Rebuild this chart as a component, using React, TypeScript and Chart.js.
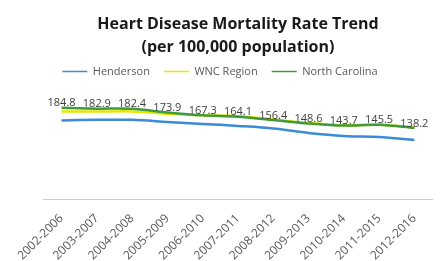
import React, { useEffect, useRef } from "react";
import { Chart, registerables } from "chart.js";

Chart.register(...registerables);

const periods = [
  "2002-2006", "2003-2007", "2004-2008", "2005-2009", "2006-2010", "2007-2011",
  "2008-2012", "2009-2013", "2010-2014", "2011-2015", "2012-2016",
];
const henderson = [155.7, 156.9, 156.9, 152.2, 147.6, 142.9, 137.1, 126.7, 119.7, 117.4, 110.4];
const wncRegion = [176.5, 176.0, 176.5, 171.0, 167.5, 165.5, 158.0, 149.5, 144.5, 145.5, 139.0];
const northCarolina = [184.8, 182.9, 182.4, 173.9, 167.3, 164.1, 156.4, 148.6, 143.7, 145.5, 138.2];
const titleLines = ["Heart Disease Mortality Rate Trend", "(per 100,000 population)"];

const labelPlugin = {
  id: "ncLabels",
  afterDatasetsDraw(chart: any) {
    const ctx = chart.ctx;
    const idx = 2;
    const meta = chart.getDatasetMeta(idx);
    const data = chart.data.datasets[idx].data as number[];
    ctx.save();
    ctx.font = "11px 'Open Sans', sans-serif";
    ctx.fillStyle = "#404040";
    ctx.textAlign = "center";
    ctx.textBaseline = "bottom";
    meta.data.forEach((pt: any, i: number) => {
      ctx.fillText(data[i].toFixed(1), pt.x, pt.y + 1);
    });
    ctx.restore();
  },
};

const titlePlugin = {
  id: "plotTitle",
  afterDraw(chart: any) {
    const ctx = chart.ctx;
    const cx = (chart.chartArea.left + chart.chartArea.right) / 2;
    ctx.save();
    ctx.font = "bold 16px 'Open Sans', sans-serif";
    ctx.fillStyle = "#1a1a1a";
    ctx.textAlign = "center";
    ctx.textBaseline = "middle";
    ctx.fillText(titleLines[0], cx, 16);
    ctx.fillText(titleLines[1], cx, 39);
    ctx.restore();
  },
};

export default function App() {
  const ref = useRef<HTMLCanvasElement | null>(null);
  useEffect(() => {
    if (!ref.current) return;
    const chart = new Chart(ref.current, {
      type: "line",
      data: {
        labels: periods,
        datasets: [
          { label: "Henderson", data: henderson, borderColor: "#3b8bd8", backgroundColor: "#3b8bd8", borderWidth: 2.5, pointRadius: 0, tension: 0.3, order: 2 },
          { label: "WNC Region", data: wncRegion, borderColor: "#e6e600", backgroundColor: "#e6e600", borderWidth: 2.5, pointRadius: 0, tension: 0.3, order: 1 },
          { label: "North Carolina", data: northCarolina, borderColor: "#3f9a3f", backgroundColor: "#3f9a3f", borderWidth: 2.5, pointRadius: 0, tension: 0.3, order: 0 },
        ],
      },
      options: {
        animation: false,
        responsive: true,
        maintainAspectRatio: false,
        layout: { padding: { left: 0, right: 6, top: 44, bottom: 0 } },
        plugins: {
          title: { display: false },
          legend: {
            display: true,
            labels: {
              usePointStyle: true,
              pointStyle: "line",
              pointStyleWidth: 25,
              color: "#595959",
              font: { family: "'Open Sans', sans-serif", size: 11 },
              padding: 14,
              sort: (a: any, b: any) => a.datasetIndex - b.datasetIndex,
              generateLabels: (c: any) =>
                Chart.defaults.plugins.legend.labels
                  .generateLabels(c)
                  .map((l: any) => ({ ...l, lineWidth: 1.5 })),
            },
          },
          tooltip: { enabled: false },
        },
        scales: {
          x: {
            offset: true,
            grid: { display: false, drawTicks: false },
            border: { display: true, color: "#d0d0d0", width: 1 },
            ticks: {
              color: "#595959",
              font: { family: "'Open Sans', sans-serif", size: 12 },
              minRotation: 45,
              maxRotation: 45,
              padding: 12,
            },
          },
          y: {
            display: false,
            min: -27,
            max: 233,
          },
        },
      },
      plugins: [labelPlugin, titlePlugin],
    });
    return () => chart.destroy();
  }, []);
  return (
    <div style={{ width: 430, height: 267 }}>
      <canvas ref={ref} />
    </div>
  );
}
